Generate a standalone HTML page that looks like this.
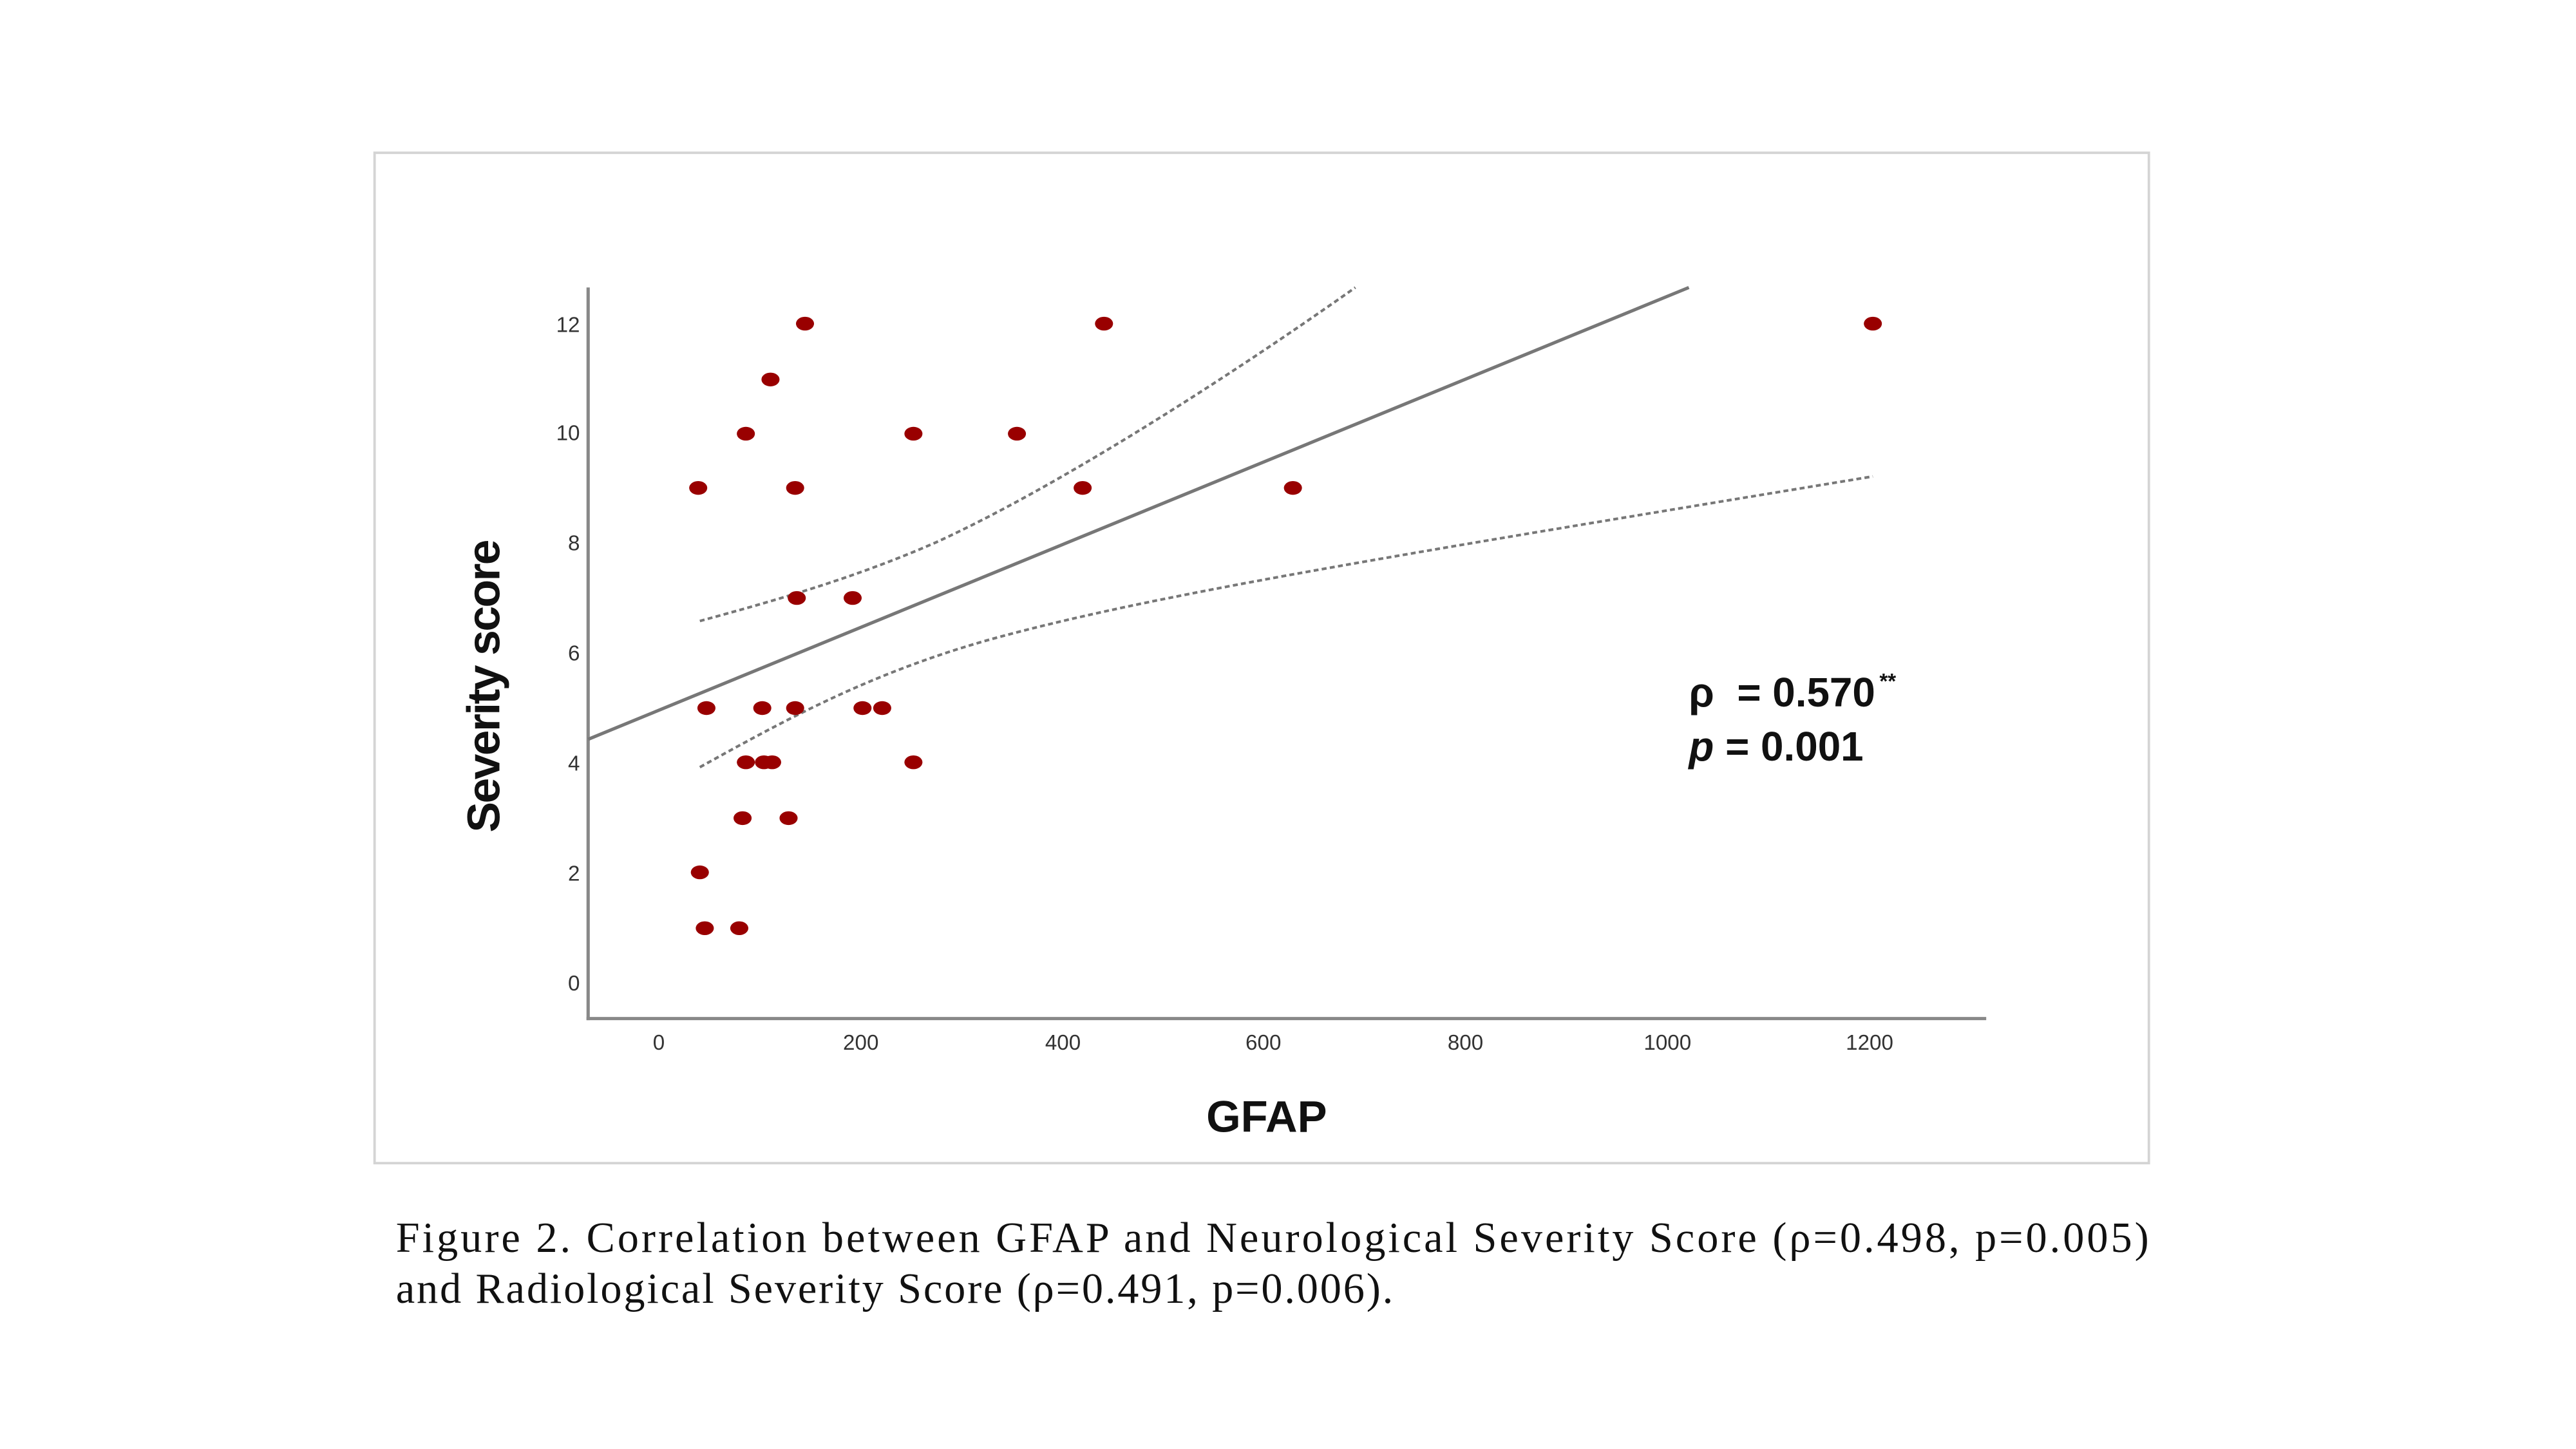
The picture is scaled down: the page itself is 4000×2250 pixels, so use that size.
<!DOCTYPE html>
<html><head><meta charset="utf-8"><style>
html,body{margin:0;padding:0;background:#fff;}
svg{display:block;}
</style></head><body>
<svg width="4000" height="2250" viewBox="0 0 1568 882" preserveAspectRatio="none" xmlns="http://www.w3.org/2000/svg">
<rect x="0" y="0" width="1568" height="882" fill="#fff"/>
<rect x="228" y="93" width="1080" height="615" fill="#fff" stroke="#d4d4d4" stroke-width="1.5"/>
<g stroke="#888" stroke-width="2" fill="none">
<line x1="358" y1="175" x2="358" y2="621"/>
<line x1="357" y1="620" x2="1209" y2="620"/>
</g>
<g font-family="Liberation Sans, sans-serif" font-size="13" fill="#333" text-anchor="end">
<text x="353" y="202">12</text><text x="353" y="268">10</text><text x="353" y="335">8</text>
<text x="353" y="402">6</text><text x="353" y="469">4</text><text x="353" y="536">2</text><text x="353" y="603">0</text>
</g>
<g font-family="Liberation Sans, sans-serif" font-size="13" fill="#333" text-anchor="middle">
<text x="401" y="639">0</text><text x="524" y="639">200</text><text x="647" y="639">400</text>
<text x="769" y="639">600</text><text x="892" y="639">800</text><text x="1015" y="639">1000</text><text x="1138" y="639">1200</text>
</g>
<text transform="translate(304,418) rotate(-90)" font-family="Liberation Sans, sans-serif" font-weight="bold" font-size="28" text-anchor="middle" fill="#111" letter-spacing="-1">Severity score</text>
<text x="771" y="689" font-family="Liberation Sans, sans-serif" font-weight="bold" font-size="27" text-anchor="middle" fill="#111">GFAP</text>
<line x1="358" y1="450" x2="1028" y2="175" stroke="#777" stroke-width="2"/>
<g stroke="#777" stroke-width="1.6" fill="none" stroke-dasharray="3,2">
<path d="M426,378 C470,366 520,352 570,330 C640,298 740,235 825,175"/>
<path d="M426,467 C480,437 530,410 600,390 C700,362 850,338 1140,290"/>
</g>
<g fill="#990000">
<ellipse cx="425" cy="297" rx="5.5" ry="4.2"/><ellipse cx="430" cy="431" rx="5.5" ry="4.2"/>
<ellipse cx="454" cy="264" rx="5.5" ry="4.2"/><ellipse cx="469" cy="231" rx="5.5" ry="4.2"/>
<ellipse cx="490" cy="197" rx="5.5" ry="4.2"/><ellipse cx="484" cy="297" rx="5.5" ry="4.2"/>
<ellipse cx="485" cy="364" rx="5.5" ry="4.2"/><ellipse cx="519" cy="364" rx="5.5" ry="4.2"/>
<ellipse cx="464" cy="431" rx="5.5" ry="4.2"/><ellipse cx="484" cy="431" rx="5.5" ry="4.2"/>
<ellipse cx="525" cy="431" rx="5.5" ry="4.2"/><ellipse cx="537" cy="431" rx="5.5" ry="4.2"/>
<ellipse cx="454" cy="464" rx="5.5" ry="4.2"/><ellipse cx="465" cy="464" rx="5.5" ry="4.2"/>
<ellipse cx="470" cy="464" rx="5.5" ry="4.2"/><ellipse cx="556" cy="464" rx="5.5" ry="4.2"/>
<ellipse cx="452" cy="498" rx="5.5" ry="4.2"/><ellipse cx="480" cy="498" rx="5.5" ry="4.2"/>
<ellipse cx="426" cy="531" rx="5.5" ry="4.2"/><ellipse cx="429" cy="565" rx="5.5" ry="4.2"/>
<ellipse cx="450" cy="565" rx="5.5" ry="4.2"/><ellipse cx="556" cy="264" rx="5.5" ry="4.2"/>
<ellipse cx="619" cy="264" rx="5.5" ry="4.2"/><ellipse cx="659" cy="297" rx="5.5" ry="4.2"/>
<ellipse cx="672" cy="197" rx="5.5" ry="4.2"/><ellipse cx="787" cy="297" rx="5.5" ry="4.2"/>
<ellipse cx="1140" cy="197" rx="5.5" ry="4.2"/>
</g>
<g font-family="Liberation Sans, sans-serif" font-weight="bold" font-size="25" fill="#111">
<text x="1028" y="430">ρ&#160;&#160;= 0.570</text>
<text x="1144" y="419" font-size="13">**</text>
<text x="1028" y="463"><tspan font-style="italic">p</tspan> = 0.001</text>
</g>
<g font-family="Liberation Serif, serif" font-size="26" fill="#111">
<text x="241" y="762" textLength="1067" lengthAdjust="spacing">Figure 2. Correlation between GFAP and Neurological Severity Score (ρ=0.498, p=0.005)</text>
<text x="241" y="793" textLength="607" lengthAdjust="spacing">and Radiological Severity Score (ρ=0.491, p=0.006).</text>
</g>
</svg>
</body></html>
